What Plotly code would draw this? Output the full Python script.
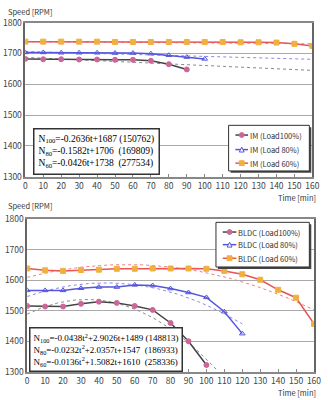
import plotly.graph_objects as go
import numpy as np

# ---------------- data ----------------
t_im100 = [0, 10, 20, 30, 40, 50, 60, 70, 80, 90]
im100 = [1682, 1681, 1681, 1680, 1680, 1679, 1679, 1676, 1665, 1648]
t_im80 = [0, 10, 20, 30, 40, 50, 60, 70, 80, 90, 100]
im80 = [1703, 1703, 1702, 1702, 1702, 1701, 1701, 1699, 1694, 1688, 1682]
t_im60 = [0, 10, 20, 30, 40, 50, 60, 70, 80, 90, 100, 110, 120, 130, 140, 150, 160]
im60 = [1738, 1738, 1738, 1738, 1738, 1737, 1737, 1737, 1737, 1737, 1737, 1737, 1736, 1736, 1735, 1731, 1724]

t_b100 = [0, 10, 20, 30, 40, 50, 60, 70, 80, 90, 100]
b100 = [1516, 1514, 1514, 1523, 1530, 1526, 1516, 1503, 1460, 1400, 1322]
t_b80 = [0, 10, 20, 30, 40, 50, 60, 70, 80, 90, 100, 110, 120]
b80 = [1567, 1567, 1567, 1574, 1578, 1578, 1585, 1583, 1573, 1560, 1544, 1497, 1425]
t_b60 = [0, 10, 20, 30, 40, 50, 60, 70, 80, 90, 100, 110, 120, 130, 140, 150, 160]
b60 = [1639, 1633, 1631, 1634, 1635, 1638, 1638, 1639, 1639, 1639, 1638, 1631, 1620, 1602, 1569, 1543, 1457]

# fitted trend coefficients (a t^2 + b t + c) and fit ranges
im_fits = {"100": (0, -0.2636, 1687, 160), "80": (0, -0.1582, 1706, 160), "60": (0, -0.0426, 1738, 160)}
bl_fits = {"100": (-0.0438, 2.9026, 1489, 106), "80": (-0.0232, 2.0357, 1547, 120), "60": (-0.0136, 1.5082, 1610, 160)}

im_names = ["IM (Load100%)", "IM (Load 80%)", "IM (Load 60%)"]
bl_names = ["BLDC (Load100%)", "BLDC (Load 80%)", "BLDC (Load 60%)"]

y_ticks = [1300, 1400, 1500, 1600, 1700, 1800]
x_ticks = list(range(0, 161, 10))

# ---------------- styles ----------------
C100_M, C100_L, C100_F = "#cc6699", "#444444", "#888888"
C80_M, C80_L, C80_F = "#5555dd", "#5555dd", "#8888ee"
C60_M, C60_L, C60_F = "#f0b040", "#e85555", "#f08080"
STY = [(C100_M, C100_L, "circle"), (C80_M, C80_L, "triangle"), (C60_M, C60_L, "square")]
SYM = {"circle": "circle", "triangle": "triangle-up-open", "square": "square"}

W, H = 328, 400
fig = go.Figure()


def px(x):
    return x / W


def py(y):
    return 1 - y / H


def add_series(t, v, name, sty, xa, ya):
    mcol, lcol, sym = sty
    fig.add_trace(go.Scatter(
        x=t, y=v, name=name, mode="lines+markers", xaxis=xa, yaxis=ya, showlegend=False,
        line=dict(color=lcol, width=1.5),
        marker=dict(color=mcol, size=5, symbol=SYM[sym], line=dict(color=mcol, width=1)),
    ))


def add_fit(coef, col, xa, ya):
    a, b, c, tmax = coef
    tt = np.linspace(0, tmax, 60)
    fig.add_trace(go.Scatter(
        x=tt, y=a * tt ** 2 + b * tt + c, mode="lines", showlegend=False, xaxis=xa, yaxis=ya,
        line=dict(color=col, width=1, dash="dot"), hoverinfo="skip",
    ))


add_fit(im_fits["100"], C100_F, "x", "y")
add_fit(im_fits["80"], C80_F, "x", "y")
add_fit(im_fits["60"], C60_F, "x", "y")
add_series(t_im100, im100, im_names[0], STY[0], "x", "y")
add_series(t_im80, im80, im_names[1], STY[1], "x", "y")
add_series(t_im60, im60, im_names[2], STY[2], "x", "y")

add_fit(bl_fits["100"], C100_F, "x2", "y2")
add_fit(bl_fits["80"], C80_F, "x2", "y2")
add_fit(bl_fits["60"], C60_F, "x2", "y2")
add_series(t_b100, b100, bl_names[0], STY[0], "x2", "y2")
add_series(t_b80, b80, bl_names[1], STY[1], "x2", "y2")
add_series(t_b60, b60, bl_names[2], STY[2], "x2", "y2")

tickfont = dict(family="Noto Sans CJK KR, DejaVu Sans", size=8.5, color="#444444")
xcommon = dict(range=[0, 160], tickvals=x_ticks, showgrid=False, zeroline=False,
               showline=True, linecolor="#888888", linewidth=1.5, mirror=True,
               ticks="inside", ticklen=3, tickcolor="#888888", tickfont=tickfont)
ycommon = dict(range=[1300, 1800], tickvals=y_ticks, showgrid=True, gridcolor="#aaaaaa",
               gridwidth=1, zeroline=False, showline=True, linecolor="#666666",
               linewidth=1.5, mirror=True, ticks="", tickfont=tickfont)

fig.update_layout(
    width=W, height=H, margin=dict(l=0, r=0, t=0, b=0),
    paper_bgcolor="white", plot_bgcolor="white", showlegend=False,
    xaxis=dict(domain=[0.073, 0.973], anchor="y", **xcommon),
    yaxis=dict(domain=[0.5625, 0.96], anchor="x", **ycommon),
    xaxis2=dict(domain=[0.079, 0.978], anchor="y2", **xcommon),
    yaxis2=dict(domain=[0.06, 0.4525], anchor="x2", **ycommon),
)

labfont = dict(family="Noto Sans CJK KR, DejaVu Sans", size=7.5, color="#333333")
fig.add_annotation(text="Speed [RPM]", x=0.012, y=py(5), xref="paper", yref="paper",
                   xanchor="left", yanchor="middle", showarrow=False, font=labfont)
fig.add_annotation(text="Time [min]", x=0.99, y=py(196), xref="paper", yref="paper",
                   xanchor="right", yanchor="middle", showarrow=False, font=labfont)
fig.add_annotation(text="Speed [RPM]", x=0.012, y=py(205), xref="paper", yref="paper",
                   xanchor="left", yanchor="middle", showarrow=False, font=labfont)
fig.add_annotation(text="Time [min]", x=0.99, y=py(397), xref="paper", yref="paper",
                   xanchor="right", yanchor="middle", showarrow=False, font=labfont)


# ---------------- custom legends (compact, like the reference) ----------------
legfont = dict(family="Noto Sans CJK KR, DejaVu Sans", size=7.5, color="#333333")


def add_legend(names, box, rows, lx0, lx1, tx):
    x0, y0, x1, y1 = box
    fig.add_shape(type="rect", xref="paper", yref="paper", x0=px(x0 + 2), x1=px(x1 + 2),
                  y0=py(y0 + 2), y1=py(y1 + 2), fillcolor="#444444", line=dict(width=0), layer="above")
    fig.add_shape(type="rect", xref="paper", yref="paper", x0=px(x0), x1=px(x1),
                  y0=py(y0), y1=py(y1), fillcolor="white", line=dict(color="#333333", width=1), layer="above")
    for name, ry, (mcol, lcol, sym) in zip(names, rows, STY):
        fig.add_shape(type="line", xref="paper", yref="paper", x0=px(lx0), x1=px(lx1),
                      y0=py(ry), y1=py(ry), line=dict(color=lcol, width=1.5), layer="above")
        cx = (lx0 + lx1) / 2
        r = 2.5
        if sym == "circle":
            fig.add_shape(type="circle", xref="paper", yref="paper", x0=px(cx - r), x1=px(cx + r),
                          y0=py(ry + r), y1=py(ry - r), fillcolor=mcol, line=dict(color=mcol, width=1), layer="above")
        elif sym == "square":
            fig.add_shape(type="rect", xref="paper", yref="paper", x0=px(cx - r), x1=px(cx + r),
                          y0=py(ry + r), y1=py(ry - r), fillcolor=mcol, line=dict(color=mcol, width=1), layer="above")
        else:
            path = "M {:.5f},{:.5f} L {:.5f},{:.5f} L {:.5f},{:.5f} Z".format(
                px(cx - r), py(ry + r), px(cx + r), py(ry + r), px(cx), py(ry - r))
            fig.add_shape(type="path", xref="paper", yref="paper", path=path, fillcolor="white",
                          line=dict(color=mcol, width=1), layer="above")
        fig.add_annotation(text=name, x=px(tx), y=py(ry), xref="paper", yref="paper",
                           xanchor="left", yanchor="middle", showarrow=False, font=legfont)


add_legend(im_names, (233, 122, 316, 169), (132, 147, 161), 240, 253, 253)
add_legend(bl_names, (220, 222, 316, 268), (232, 245, 259), 227, 241, 241)

eqfont = dict(family="Liberation Serif, Times New Roman, serif", size=9.5, color="#000000")
fig.add_annotation(
    text="N<sub>100</sub>=-0.2636t+1687 (150762)<br>N<sub>80</sub>=-0.1582t+1706  (169809)<br>N<sub>60</sub>=-0.0426t+1738  (277534)",
    x=0.098, y=py(125), xref="paper", yref="paper", xanchor="left", yanchor="top",
    align="left", showarrow=False, font=eqfont, bgcolor="white", bordercolor="#333333",
    borderwidth=1.5, borderpad=4)
fig.add_annotation(
    text="N<sub>100</sub>=-0.0438t<sup>2</sup>+2.9026t+1489 (148813)<br>N<sub>80</sub>=-0.0232t<sup>2</sup>+2.0357t+1547  (186933)<br>N<sub>60</sub>=-0.0136t<sup>2</sup>+1.5082t+1610  (258336)",
    x=0.086, y=py(330), xref="paper", yref="paper", xanchor="left", yanchor="top",
    align="left", showarrow=False, font=dict(eqfont, size=9), bgcolor="white", bordercolor="#333333",
    borderwidth=1.5, borderpad=3)

fig.write_html("out.html")
